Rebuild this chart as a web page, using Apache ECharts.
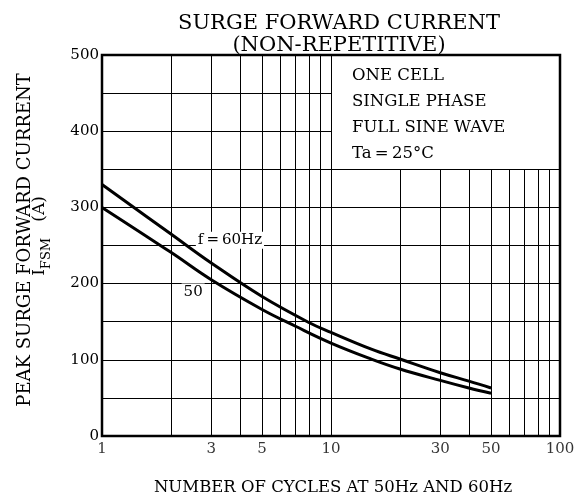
<!DOCTYPE html>
<html>
<head>
<meta charset="utf-8">
<script src="https://cdn.jsdelivr.net/npm/echarts@6/dist/echarts.min.js"></script>
<style>html,body{margin:0;padding:0;background:#fff;}#c{width:582px;height:501px;}</style>
</head>
<body>
<div id="c"></div>
<script>
// ---- data ----
const cycles60 = [1, 2, 3, 5, 8, 10, 15, 20, 30, 40, 50];
const ifsm60   = [330, 265, 227, 183, 149, 136, 114, 101, 83, 72, 63];
const cycles50 = [1, 2, 3, 5, 7, 10, 15, 20, 30, 40, 50];
const ifsm50   = [300, 241, 205, 166, 144, 122, 101, 88, 73, 63, 56];
const xTickLabels = [1, 3, 5, 10, 30, 50, 100];
const xGridFull = [2, 3, 4, 5, 6, 7, 8, 9, 10];
const xGridLow = [20, 30, 40, 50, 60, 70, 80, 90];
const yGridFull = [50, 100, 150, 200, 250, 300, 350];
const yGridLeft = [400, 450];
const noteLines = ['ONE CELL', 'SINGLE PHASE', 'FULL SINE WAVE', 'Ta\u2009=\u200925\u00b0C'];

const FONT = 'DejaVu Serif';
const chart = echarts.init(document.getElementById('c'), null, {renderer: 'canvas'});

const gridLines = [];
xGridFull.forEach(v => gridLines.push({coords: [[v, 0], [v, 500]]}));
xGridLow.forEach(v => gridLines.push({coords: [[v, 0], [v, 350]]}));
yGridFull.forEach(v => gridLines.push({coords: [[1, v], [100, v]]}));
yGridLeft.forEach(v => gridLines.push({coords: [[1, v], [10, v]]}));

const option = {
  animation: false,
  backgroundColor: '#fff',
  textStyle: {fontFamily: FONT, color: '#000'},
  title: {
    text: 'SURGE FORWARD CURRENT\n(NON-REPETITIVE)',
    left: 334, top: 8, textAlign: 'center',
    textStyle: {fontFamily: FONT, fontWeight: 'normal', fontSize: 21, lineHeight: 22, color: '#000'}
  },
  grid: {left: 102, right: 22, top: 55, bottom: 65, show: true, borderColor: '#000', borderWidth: 2.5, backgroundColor: 'transparent'},
  xAxis: {
    type: 'log', logBase: 10, min: 1, max: 100,
    axisLine: {show: false}, axisTick: {show: false}, axisLabel: {show: false}, splitLine: {show: false}
  },
  yAxis: {
    type: 'value', min: 0, max: 500, interval: 100,
    axisLine: {show: false}, axisTick: {show: false}, splitLine: {show: false},
    axisLabel: {fontFamily: FONT, fontSize: 15, color: '#000', margin: 3}
  },
  series: [
    {
      type: 'lines', coordinateSystem: 'cartesian2d', polyline: false, silent: true, z: 1,
      lineStyle: {color: '#000', width: 1, opacity: 1},
      data: gridLines
    },
    {
      type: 'scatter', symbolSize: 0, silent: true, clip: false,
      data: xTickLabels.map(v => [v, 0]),
      label: {show: true, position: 'bottom', distance: 6, fontFamily: FONT, fontSize: 15, color: '#000',
              formatter: p => String(p.value[0])}
    },
    {
      type: 'line', name: '60Hz', smooth: 0.4, symbol: 'none', z: 3,
      lineStyle: {color: '#000', width: 3},
      data: cycles60.map((c, i) => [c, ifsm60[i]]),
      markPoint: {
        symbol: 'rect', symbolSize: 0, silent: true,
        data: [{coord: [3.62, 257], value: 'f\u2009=\u200960Hz'}],
        label: {show: true, position: 'inside', fontFamily: FONT, fontSize: 15, color: '#000',
                backgroundColor: '#fff', padding: [1, 2], formatter: '{c}'}
      }
    },
    {
      type: 'line', name: '50Hz', smooth: 0.4, symbol: 'none', z: 3,
      lineStyle: {color: '#000', width: 3},
      data: cycles50.map((c, i) => [c, ifsm50[i]]),
      markPoint: {
        symbol: 'rect', symbolSize: 0, silent: true,
        data: [{coord: [2.5, 189], value: '50'}],
        label: {show: true, position: 'inside', fontFamily: FONT, fontSize: 15, color: '#000',
                backgroundColor: '#fff', padding: [1, 2], formatter: '{c}'}
      }
    }
  ],
  graphic: [
    {
      type: 'text', left: 352, top: 63, z: 10,
      style: {text: noteLines.join('\n'), font: '16.5px "DejaVu Serif"', lineHeight: 26, fill: '#000'}
    },
    {
      type: 'text', x: 333, y: 488, z: 10,
      style: {text: 'NUMBER OF CYCLES AT 50Hz AND 60Hz', font: '16.5px "DejaVu Serif"', fill: '#000',
              align: 'center', verticalAlign: 'middle'}
    },
    {
      type: 'text', x: 25, y: 240, rotation: Math.PI / 2, z: 10,
      style: {text: 'PEAK SURGE FORWARD CURRENT', font: '18px "DejaVu Serif"', fill: '#000',
              align: 'center', verticalAlign: 'middle'}
    },
    {
      type: 'text', x: 42, y: 236, rotation: Math.PI / 2, z: 10,
      style: {
        text: '{i|I}{s|FSM}{n|   (A)}', align: 'center', verticalAlign: 'middle', fill: '#000',
        rich: {
          i: {fontFamily: FONT, fontSize: 17, lineHeight: 22, verticalAlign: 'top', fill: '#000'},
          s: {fontFamily: FONT, fontSize: 13, lineHeight: 22, verticalAlign: 'bottom', fill: '#000'},
          n: {fontFamily: FONT, fontSize: 17, lineHeight: 22, verticalAlign: 'top', fill: '#000'}
        }
      }
    }
  ]
};
chart.setOption(option);
</script>
</body>
</html>
